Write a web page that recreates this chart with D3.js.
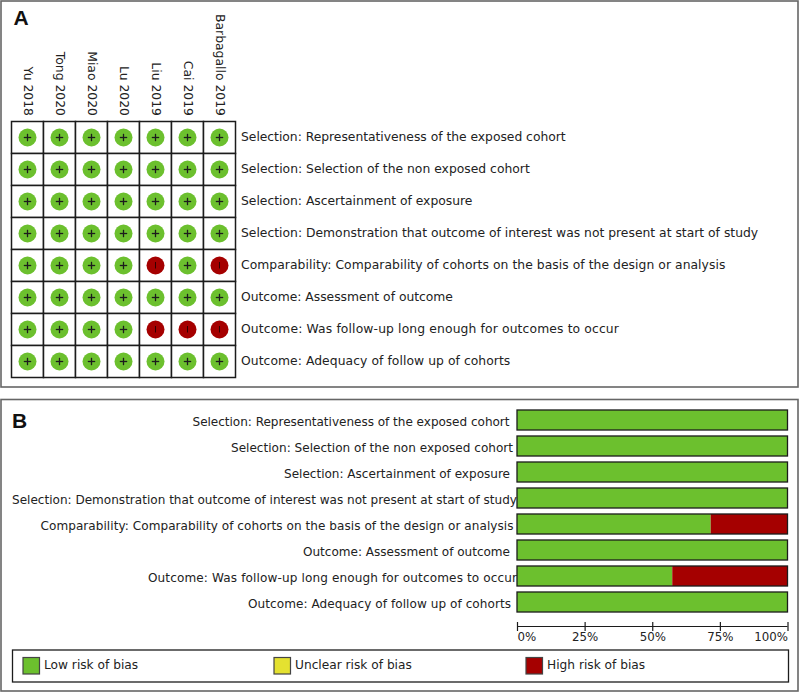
<!DOCTYPE html>
<html><head><meta charset="utf-8">
<style>html,body{margin:0;padding:0;background:#fff}svg{display:block}text{font-family:"DejaVu Sans",sans-serif;fill:#222}</style>
<script src="https://cdn.jsdelivr.net/npm/d3@7"></script></head><body>
<script>
const studies = ["Yu 2018","Tong 2020","Miao 2020","Lu 2020","Liu 2019","Cai 2019","Barbagallo 2019"];
const domains = [
 "Selection: Representativeness of the exposed cohort",
 "Selection: Selection of the non exposed cohort",
 "Selection: Ascertainment of exposure",
 "Selection: Demonstration that outcome of interest was not present at start of study",
 "Comparability: Comparability of cohorts on the basis of the design or analysis",
 "Outcome: Assessment of outcome",
 "Outcome: Was follow-up long enough for outcomes to occur",
 "Outcome: Adequacy of follow up of cohorts"];
const judgements = [
 ["+","+","+","+","+","+","+"],
 ["+","+","+","+","+","+","+"],
 ["+","+","+","+","+","+","+"],
 ["+","+","+","+","+","+","+"],
 ["+","+","+","+","-","+","-"],
 ["+","+","+","+","+","+","+"],
 ["+","+","+","+","-","-","-"],
 ["+","+","+","+","+","+","+"]];
const lowRisk  = [100,100,100,100,71.6,100,57.4,100];
const highRisk = [0,0,0,0,28.4,0,42.6,0];
const xTicks = [0,25,50,75,100];
const legendLabels = ["Low risk of bias","Unclear risk of bias","High risk of bias"];
const GREEN="#6cc02e", YELLOW="#e4e130", RED="#a50000", INK="#1c1c1c";
// right-hand gap between each panel B label and the bar start, and the label widths
const labelGaps = [7.5,4,7,0,3.5,7,0,6];
const labelWidths = [317,282,226,505,473,207,369,263];

const svg=d3.select("body").append("svg").attr("width",800).attr("height",694);
svg.append("rect").attr("x",1).attr("y",1).attr("width",797).attr("height",386).attr("fill","#fff").attr("stroke","#666").attr("stroke-width",1.6);
svg.append("rect").attr("x",1).attr("y",399.5).attr("width",797).attr("height",291.5).attr("fill","#fff").attr("stroke","#666").attr("stroke-width",1.6);
const letter=(t,x,y)=>svg.append("text").text(t).attr("x",x).attr("y",y).style("font-family","'Liberation Sans',sans-serif").style("font-weight","700").style("font-size","21px").style("fill","#111");
letter("A",13.5,25); letter("B",12,428);

// Panel A
const cx=d3.scaleBand().domain(studies).range([11.5,235.5]);
const cy=d3.scaleBand().domain(domains).range([121.5,377.5]);
const A=svg.append("g");
studies.forEach(s=>A.append("text").text(s).attr("text-anchor","end").attr("dy","0.35em")
  .attr("transform",`translate(${cx(s)+cx.bandwidth()/2+0.5},116) rotate(90)`).style("font-size","12.4px"));
domains.forEach((d,i)=>{
  A.append("text").text(d).attr("x",241).attr("y",cy(d)+cy.bandwidth()/2-1).attr("dy","0.35em").style("font-size","12.35px")
    .attr("textLength",labelWidths[i]*1.024).attr("lengthAdjust","spacing");
  studies.forEach((s,j)=>{
    A.append("rect").attr("x",cx(s)).attr("y",cy(d)).attr("width",cx.bandwidth()).attr("height",cy.bandwidth()).attr("fill","#fff").attr("stroke",INK).attr("stroke-width",1.5);
    const mx=cx(s)+cx.bandwidth()/2,my=cy(d)+cy.bandwidth()/2,v=judgements[i][j];
    A.append("circle").attr("cx",mx).attr("cy",my).attr("r",9).attr("fill",v==="+"?GREEN:RED);
    if(v==="+"){
      A.append("line").attr("x1",mx).attr("x2",mx).attr("y1",my-3.7).attr("y2",my+3.7).attr("stroke",INK).attr("stroke-width",1.3);
      A.append("line").attr("x1",mx-3.7).attr("x2",mx+3.7).attr("y1",my).attr("y2",my).attr("stroke",INK).attr("stroke-width",1.3);
    } else {
      A.append("line").attr("x1",mx).attr("x2",mx).attr("y1",my-3.5).attr("y2",my+3).attr("stroke","#300").attr("stroke-width",1);
    }
  });
});

// Panel B
const x=d3.scaleLinear().domain([0,100]).range([517,787.5]);
const y=d3.scaleBand().domain(domains).range([407,615]).paddingInner(0.23).paddingOuter(0.115);
const B=svg.append("g");
domains.forEach((d,i)=>{
  B.append("text").text(d).attr("x",x(0)-labelGaps[i]).attr("y",y(d)+y.bandwidth()/2+1.5).attr("dy","0.35em").attr("text-anchor","end").style("font-size","12.05px")
    .attr("textLength",labelWidths[i]).attr("lengthAdjust","spacing");
  B.append("rect").attr("x",x(0)).attr("y",y(d)).attr("width",x(lowRisk[i])-x(0)).attr("height",y.bandwidth()).attr("fill",GREEN);
  if(highRisk[i]>0)B.append("rect").attr("x",x(lowRisk[i])).attr("y",y(d)).attr("width",x(100)-x(lowRisk[i])).attr("height",y.bandwidth()).attr("fill",RED);
  B.append("rect").attr("x",x(0)).attr("y",y(d)).attr("width",x(100)-x(0)).attr("height",y.bandwidth()).attr("fill","none").attr("stroke",INK).attr("stroke-width",1.3);
});
const ax=svg.append("g").attr("transform","translate(0,626.5)").call(d3.axisBottom(x).tickValues(xTicks).tickFormat(d=>d+"%").tickSize(4.5).tickPadding(2));
ax.select(".domain").attr("stroke",INK).attr("stroke-width",1.2).attr("d",`M${x(0)},0H${x(100)}`);
ax.selectAll(".tick line").attr("y1",-4.5).attr("stroke",INK).attr("stroke-width",1.2);
ax.selectAll(".tick text").style("font-size","11.8px").style("font-family","'DejaVu Sans',sans-serif").attr("fill",INK)
  .attr("text-anchor",d=>d===0?"start":d===100?"end":"middle");

// Legend
svg.append("rect").attr("x",12.5).attr("y",650).attr("width",776).attr("height",32).attr("fill","#fff").attr("stroke",INK).attr("stroke-width",1.3);
const lx=d3.scaleOrdinal().domain(legendLabels).range([23,274,526]);
const lc=d3.scaleOrdinal().domain(legendLabels).range([GREEN,YELLOW,RED]);
legendLabels.forEach(l=>{
  svg.append("rect").attr("x",lx(l)).attr("y",657.5).attr("width",16.5).attr("height",16.5).attr("fill",lc(l)).attr("stroke","#444").attr("stroke-width",1.2);
  svg.append("text").text(l).attr("x",lx(l)+21).attr("y",665).attr("dy","0.35em").style("font-size","12.2px");
});
</script></body></html>
